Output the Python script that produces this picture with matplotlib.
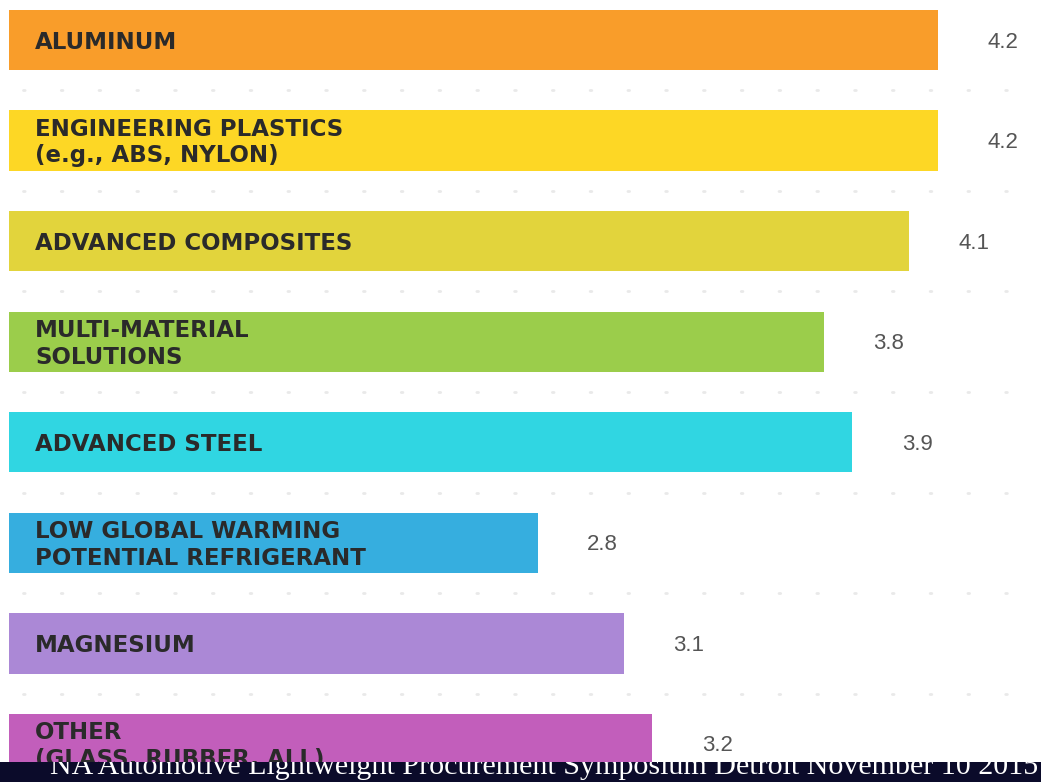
import matplotlib.pyplot as plt
from matplotlib.patches import Rectangle
import numpy as np

# Survey: expected importance of lightweighting materials
materials = [
    "ALUMINUM",
    "ENGINEERING PLASTICS\n(e.g., ABS, NYLON)",
    "ADVANCED COMPOSITES",
    "MULTI-MATERIAL\nSOLUTIONS",
    "ADVANCED STEEL",
    "LOW GLOBAL WARMING\nPOTENTIAL REFRIGERANT",
    "MAGNESIUM",
    "OTHER\n(GLASS, RUBBER, ALL)",
]
scores = [4.2, 4.2, 4.1, 3.8, 3.9, 2.8, 3.1, 3.2]
colors = ["#F99D2A", "#FDD725", "#E2D43C", "#9BCD4B",
          "#30D6E2", "#36AEDF", "#AB88D6", "#C25EBB"]
footer = "NA Automotive Lightweight Procurement Symposium Detroit November 10 2015"

W, H = 1041, 782
fig = plt.figure(figsize=(W / 100, H / 100), dpi=100)
fig.patch.set_facecolor("white")

x_min, x_max = 0.95, 4.56
ax = fig.add_axes([9 / W, 0, 1 - 9 / W, 1])
ax.set_xlim(x_min, x_max)
n = len(materials)
ax.set_ylim(n - 1 + 0.378, -0.398)
ax.axis("off")

y = np.arange(n)
ax.barh(y, scores, height=0.6, color=colors, zorder=2)

# faint dotted separators between the bars
for yy in np.arange(0.5, n - 1, 1.0):
    ax.plot([x_min + 0.05, 4.45], [yy, yy], color="#e9e9e9", lw=2.0,
            linestyle=(0, (0.6, 13)), dash_capstyle="round", zorder=1)

for yi, label, val in zip(y, materials, scores):
    ax.text(x_min + 0.092, yi + 0.02, label, ha="left", va="center",
            fontsize=16.5, fontweight="bold", color="#2a2a2a",
            family="DejaVu Sans", linespacing=1.2, zorder=3)
    ax.text(val + 0.227, yi + 0.02, f"{val:.1f}", ha="center", va="center",
            fontsize=16, color="#555555", family="Liberation Sans", zorder=3)

# dark footer banner
banner = Rectangle((0, 0), 1, 20 / H, transform=fig.transFigure,
                   facecolor="#0b0b2a", edgecolor="none", zorder=10)
fig.patches.append(banner)
ft = fig.text(50 / W, 8 / H, footer, ha="left", va="baseline",
              fontsize=21.6, color="white", family="Liberation Serif", zorder=11)
ft.set_clip_path(banner)

fig.savefig("out.png", dpi=100)
